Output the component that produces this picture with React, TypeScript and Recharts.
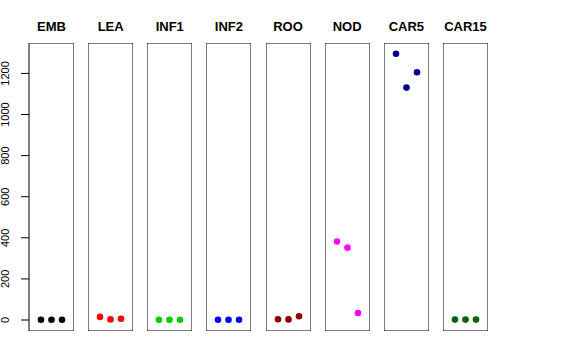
import React from "react"
import {
  ScatterChart,
  Scatter,
  XAxis,
  YAxis,
  ReferenceArea,
  Cell,
} from "recharts"

const tissues = ["EMB", "LEA", "INF1", "INF2", "ROO", "NOD", "CAR5", "CAR15"]
const tissueColors = ["#000000", "#FF0000", "#00CD00", "#0000FF", "#8B0000", "#FF00FF", "#00008B", "#006400"]

// three replicates per tissue
const embValues = [1, 1, 1]
const leaValues = [15, 3, 6]
const inf1Values = [1, 1, 1]
const inf2Values = [1, 1, 1]
const rooValues = [4, 3, 18]
const nodValues = [382, 352, 34]
const car5Values = [1296, 1131, 1206]
const car15Values = [2, 2, 2]

const yTicks = [0, 200, 400, 600, 800, 1000, 1200]

const allValues = [embValues, leaValues, inf1Values, inf2Values, rooValues, nodValues, car5Values, car15Values]

const Y_DOMAIN: [number, number] = [-53.5, 1348]
const X_DOMAIN: [number, number] = [-0.14, 4.14]
const TOP = 43
const PANEL_H = 288
const PANEL_W = 45
const FIRST_LEFT = 29
const STEP = 59.14
const AXIS_W = 29
const FONT = "'Liberation Sans', Arial, Helvetica, sans-serif"

// x given here is already 2px (tickMargin) left of the tick end
const RotatedTick = ({ x, y, payload }: any) => (
  <text
    x={x - 9.5}
    y={y}
    transform={`rotate(-90, ${x - 9.5}, ${y})`}
    textAnchor="middle"
    fontSize={11}
    fontFamily={FONT}
    fill="#000"
  >
    {payload.value}
  </text>
)

const Dot = ({ cx, cy, fill }: any) => <circle cx={cx} cy={cy} r={3.3} fill={fill} />

function Panel({ index }: { index: number }) {
  const withAxis = index === 0
  const data = allValues[index].map((v, i) => ({ x: i + 1, y: v }))
  const left = FIRST_LEFT + index * STEP - (withAxis ? AXIS_W : 0)
  const width = PANEL_W + (withAxis ? AXIS_W : 0)
  return (
    <div style={{ position: "absolute", left, top: TOP, width, height: PANEL_H }}>
      <ScatterChart width={width} height={PANEL_H} margin={{ top: 0, right: 0, bottom: 0, left: 0 }}>
        <XAxis type="number" dataKey="x" domain={X_DOMAIN} hide />
        <YAxis
          type="number"
          dataKey="y"
          domain={Y_DOMAIN}
          hide={!withAxis}
          width={AXIS_W}
          ticks={yTicks}
          tickSize={8}
          tickLine={{ stroke: "#000" }}
          axisLine={false}
          tick={<RotatedTick />}
          interval={0}
        />
        <ReferenceArea
          x1={X_DOMAIN[0]}
          x2={X_DOMAIN[1]}
          y1={Y_DOMAIN[0]}
          y2={Y_DOMAIN[1]}
          fill="none"
          stroke="#000"
          strokeWidth={1}
          strokeOpacity={1}
          ifOverflow="visible"
        />
        <Scatter data={data} isAnimationActive={false} shape={<Dot />}>
          {data.map((_, i) => (
            <Cell key={`c-${i}`} fill={tissueColors[index]} />
          ))}
        </Scatter>
      </ScatterChart>
    </div>
  )
}

export default function App() {
  return (
    <div style={{ position: "absolute", left: 0, top: 0, width: 576, height: 360, background: "#fff" }}>
      {tissues.map((name, i) => (
        <div
          key={name}
          style={{
            position: "absolute",
            left: FIRST_LEFT + i * STEP - 20,
            width: PANEL_W + 40,
            top: 19,
            textAlign: "center",
            fontFamily: FONT,
            fontWeight: "bold",
            fontSize: 13,
            lineHeight: "16px",
          }}
        >
          {name}
        </div>
      ))}
      {tissues.map((name, i) => (
        <Panel key={name} index={i} />
      ))}
    </div>
  )
}
